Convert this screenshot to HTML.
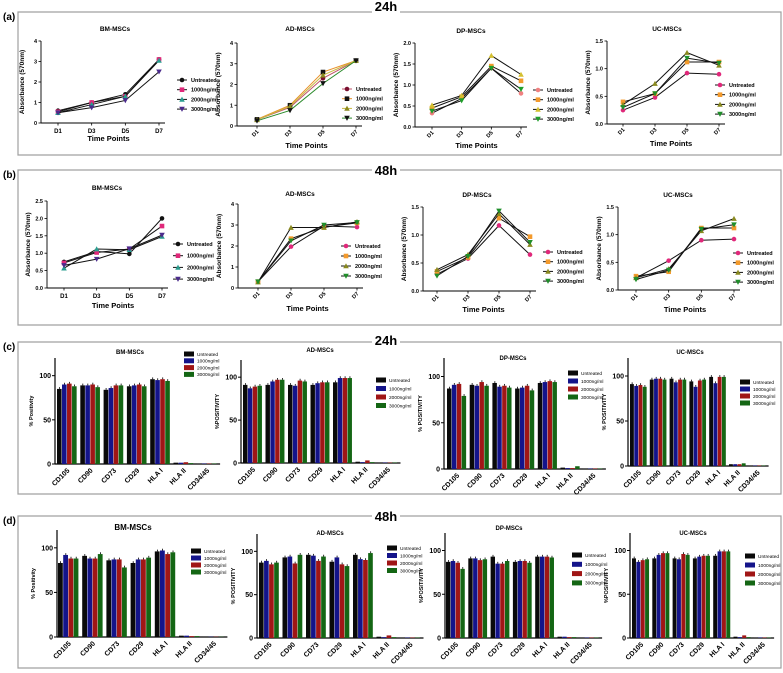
<!DOCTYPE html>
<html><head><meta charset="utf-8"><style>
html,body{margin:0;padding:0;background:#fff;}
svg{display:block;font-family:"Liberation Sans",Arial,sans-serif;}
</style></head><body>
<svg id="fig" width="783" height="673" viewBox="0 0 783 673" xmlns="http://www.w3.org/2000/svg"></svg>
<script>
// ---------- data ----------
const days = ['D1','D3','D5','D7'];
const doseNames = ['Untreated','1000ng/ml','2000ng/ml','3000ng/ml'];
const cdCategories = ['CD105','CD90','CD73','CD29','HLA I','HLA II','CD34/45'];

const aBM_values = [[0.6,1.0,1.4,3.1],[0.55,1.0,1.3,3.1],[0.5,0.9,1.3,3.05],[0.5,0.75,1.1,2.5]];
const aAD_values = [[0.3,0.9,2.3,3.15],[0.32,1.0,2.6,3.15],[0.3,0.95,2.45,3.15],[0.25,0.75,2.05,3.15]];
const aDP_values = [[0.33,0.68,1.4,0.8],[0.45,0.72,1.45,1.1],[0.52,0.75,1.7,1.25],[0.38,0.63,1.4,0.9]];
const aUC_values = [[0.25,0.48,0.92,0.9],[0.4,0.55,1.12,1.12],[0.35,0.73,1.29,1.06],[0.3,0.55,1.19,1.1]];
const bBM_values = [[0.75,1.05,0.98,2.0],[0.72,1.02,1.12,1.78],[0.57,1.12,1.1,1.48],[0.65,0.83,1.13,1.52]];
const bAD_values = [[0.3,1.97,2.95,2.9],[0.3,2.35,2.9,3.1],[0.28,2.88,2.88,3.15],[0.3,2.25,3.0,3.12]];
const bDP_values = [[0.3,0.58,1.17,0.65],[0.35,0.6,1.3,0.97],[0.38,0.65,1.38,0.83],[0.27,0.62,1.43,0.87]];
const bUC_values = [[0.22,0.53,0.9,0.92],[0.25,0.33,1.12,1.12],[0.22,0.38,1.07,1.29],[0.19,0.36,1.1,1.18]];

const cBM_values = [[85,89,84,88,96,1.5,0.5],[90,89,86,89,95,1.5,0.5],[91,90,89,90,96,2,0.5],[88,87,89,88,94,1,0.5]];
const cAD_values = [[91,91,91,91,94,1.5,0.5],[87,95,90,93,99,1,0.5],[89,97,96,94,99,3,0.5],[90,97,95,94,99,1,0.5]];
const cDP_values = [[87,91,93,87,93,1.5,0.5],[91,90,89,88,94,1,0.5],[92,94,90,90,95,1,0.5],[79,90,88,85,94,3,0.5]];
const cUC_values = [[91,96,97,94,99,2,0.5],[89,97,93,88,92,2,0.5],[90,97,96,95,99,2,0.5],[88,96,96,96,99,3,0.5]];
const dBM_values = [[83,91,86,83,96,1.5,0.3],[92,88,87,87,97,1.5,0.3],[88,88,87,87,93,1,0.3],[88,93,78,89,95,1,0.3]];
const dAD_values = [[87,93,96,88,96,1.5,0.5],[89,94,95,93,91,1,0.5],[85,86,89,85,90,3,0.5],[87,96,94,83,98,1,0.5]];
const dDP_values = [[87,91,93,87,93,1.5,0.5],[88,91,85,88,93,1.5,0.5],[86,89,85,88,93,1,0.5],[79,90,88,86,92,1,0.5]];
const dUC_values = [[91,91,91,91,94,1.5,0.5],[87,95,90,93,99,1,0.5],[89,97,96,94,99,3,0.5],[90,97,95,94,99,1,0.5]];

const ticks0to4 = [0,1,2,3,4];
const ticks0to2 = [0,0.5,1,1.5,2];
const ticks0to15 = [0,0.5,1,1.5];
const ticks0to25 = [0,0.5,1,1.5,2,2.5];
const barTicks = [0,50,100];

// ---------- drawing ----------
const NS='http://www.w3.org/2000/svg';
const svg=document.getElementById('fig');
function mk(tag,attrs,parent,txt){const e=document.createElementNS(NS,tag);for(const k in attrs)e.setAttribute(k,attrs[k]);if(txt!==undefined)e.textContent=txt;(parent||svg).appendChild(e);return e;}

function panelBox(label,tagText,top,bottom,tagBase){
  const g=mk('g',{});
  
  
  mk('path',{d:`M372 ${top} H18 V${bottom} H781 V${top} H400`,fill:'none',stroke:'#a0a0a0','stroke-width':1.2},g);
  const t=mk('text',{x:3,y:top+8,'font-size':10,'font-weight':'bold'},g,label);
  
  
  const h=mk('text',{x:386,y:tagBase,'font-size':13,'font-weight':'bold','text-anchor':'middle'},g,tagText);
  
  
}

function markerShape(g,type,x,y,fill){
  const s=2.3;
  if(type==='circle')return mk('circle',{cx:x,cy:y,r:s,fill},g);
  if(type==='square')return mk('rect',{x:x-s,y:y-s,width:2*s,height:2*s,fill},g);
  if(type==='tri')return mk('path',{d:`M${x} ${y-s-0.5} L${x+s+0.5} ${y+s} L${x-s-0.5} ${y+s}Z`,fill},g);
  return mk('path',{d:`M${x} ${y+s+0.5} L${x+s+0.5} ${y-s} L${x-s-0.5} ${y-s}Z`,fill},g);
}
const shapes=['circle','square','tri','down'];

function lineChart(c,values,ticks){
  const g=mk('g',{});
  
  
  const ymax=ticks[ticks.length-1];
  const ys=v=>c.yBot-(v/ymax)*(c.yBot-c.yTop);
  const xs=i=>c.x0+i*(c.x1-c.x0)/(days.length-1);
  mk('line',{x1:c.ax,y1:c.yTop,x2:c.ax,y2:c.yBot,stroke:'#000','stroke-width':0.9},g);
  mk('line',{x1:c.ax,y1:c.yBot,x2:c.x1+6,y2:c.yBot,stroke:'#000','stroke-width':0.9},g);
  ticks.forEach(t=>{const y=ys(t);
    mk('line',{x1:c.ax-2.5,y1:y,x2:c.ax,y2:y,stroke:'#000','stroke-width':0.8},g);
    const tl=mk('text',{x:c.ax-4,y:y+2,'font-size':5.5,'font-weight':'bold','text-anchor':'end'},g,c.fmt?t.toFixed(1):String(t));
    
    
  });
  days.forEach((d,i)=>{const x=xs(i);
    mk('line',{x1:x,y1:c.yBot,x2:x,y2:c.yBot+2.5,stroke:'#000','stroke-width':0.8},g);
    let tl;
    if(c.rot) tl=mk('text',{x:x+2,y:c.yBot+6,'font-size':5.5,'font-weight':'bold','text-anchor':'end',transform:`rotate(-45 ${x+2} ${c.yBot+6})`},g,d);
    else tl=mk('text',{x:x,y:c.yBot+10,'font-size':6,'font-weight':'bold','text-anchor':'middle'},g,d);
    
    
  });
  const tt=mk('text',{x:c.tx,y:c.ty,'font-size':6.5,'font-weight':'bold','text-anchor':'middle'},g,c.title);
  
  
  const xt=mk('text',{x:(c.x0+c.x1)/2,y:c.xty,'font-size':7.5,'font-weight':'bold','text-anchor':'middle'},g,'Time  Points');
  
  
  const ycx=c.ax-17, ycy=(c.yTop+c.yBot)/2;
  const yt=mk('text',{x:ycx,y:ycy,'font-size':6.5,'font-weight':'bold','text-anchor':'middle',transform:`rotate(-90 ${ycx} ${ycy})`},g,'Absorbance (570nm)');
  
  
  values.forEach((ser,si)=>{
    const pts=ser.map((v,i)=>xs(i)+','+ys(v)).join(' ');
    const pl=mk('polyline',{points:pts,fill:'none',stroke:c.lineColors?c.lineColors[si]:'#111','stroke-width':1},g);
    
    
    ser.forEach((v,i)=>{
      const m=markerShape(g,shapes[si],xs(i),ys(v),c.colors[si]);
      
      
    });
    const ly=c.ly+si*c.ls;
    const lg=mk('g',{},g);
    
    
    mk('line',{x1:c.lx-5,y1:ly,x2:c.lx+5,y2:ly,stroke:c.lineColors?c.lineColors[si]:'#111','stroke-width':1},lg);
    markerShape(lg,shapes[si],c.lx,ly,c.colors[si]);
    mk('text',{x:c.lx+9,y:ly+2,'font-size':5.5,'font-weight':'bold'},lg,doseNames[si]);
  });
}

const barColors=['#0a0a0a','#14148a','#a01616','#146614'];
function barChart(c,values){
  const g=mk('g',{});
  
  
  const ys=v=>c.yBot-(v/120)*(c.yBot-c.yTop);
  const bw=(c.sp*0.86)/4;
  mk('line',{x1:c.ax,y1:c.yTop,x2:c.ax,y2:c.yBot,stroke:'#000','stroke-width':1.2},g);
  mk('line',{x1:c.ax,y1:c.yBot,x2:c.gx+c.sp*7,y2:c.yBot,stroke:'#000','stroke-width':1.2},g);
  barTicks.forEach(t=>{const y=ys(t);
    mk('line',{x1:c.ax-3,y1:y,x2:c.ax,y2:y,stroke:'#000','stroke-width':1},g);
    const tl=mk('text',{x:c.ax-4,y:y+2.5,'font-size':7,'font-weight':'bold','text-anchor':'end'},g,String(t));
    
    
  });
  cdCategories.forEach((cat,ci)=>{
    const cx=c.gx+ci*c.sp+c.sp*0.43;
    const tl=mk('text',{x:cx+3,y:c.yBot+7,'font-size':7,'font-weight':'bold','text-anchor':'end',transform:`rotate(-45 ${cx+3} ${c.yBot+7})`},g,cat);
    
    
  });
  values.forEach((ser,si)=>{
    ser.forEach((v,ci)=>{
      const x=c.gx+ci*c.sp+si*bw;
      const y=ys(v);
      const r=mk('rect',{x:x,y:y,width:bw-0.4,height:c.yBot-y,fill:barColors[si]},g);
      
      
      if(v>10) mk('line',{x1:x+bw/2,y1:y,x2:x+bw/2,y2:y-1.8,stroke:'#000','stroke-width':0.8},g);
    });
  });
  const tt=mk('text',{x:c.tx,y:c.ty,'font-size':c.tfs||6,'font-weight':'bold','text-anchor':'middle'},g,c.title);
  
  
  const ycx=c.ax-22, ycy=ys(60);
  const yt=mk('text',{x:ycx,y:ycy,'font-size':5.5,'font-weight':'bold','text-anchor':'middle',transform:`rotate(-90 ${ycx} ${ycy})`},g,c.ytitle);
  
  
  doseNames.forEach((n,si)=>{
    const ly=c.ly+si*c.ls;
    const lg=mk('g',{},g);
    
    
    mk('rect',{x:c.lx,y:ly-2.5,width:10,height:5,fill:barColors[si]},lg);
    mk('text',{x:c.lx+13,y:ly+1.8,'font-size':4.8},lg,n);
  });
}

// ---------- panels ----------
panelBox('(a)','24h',12,155,11);
panelBox('(b)','48h',170,325,175);
panelBox('(c)','24h',342,494,345);
panelBox('(d)','48h',516,668,521);

const bmCols=['#111','#e0287a','#2a9d8f','#4b2b8c'];
const dCols=['#e0287a','#f39a2c','#8a8a20','#1f8f2a'];
lineChart({name:'chart-a-bm',ax:41,yTop:41,yBot:123,x0:58,x1:159,fmt:false,rot:false,title:'BM-MSCs',tx:115,ty:31,xty:141,lx:182,ly:80,ls:9.7,colors:bmCols},aBM_values,ticks0to4);
lineChart({name:'chart-a-ad',ax:237,yTop:43,yBot:126,x0:257,x1:356,fmt:false,rot:true,title:'AD-MSCs',tx:300,ty:31,xty:148,lx:347,ly:89,ls:9.7,colors:['#7a1030','#111','#8a8a20','#111'],lineColors:['#c0506a','#e8902a','#c8b840','#2a8a2a']},aAD_values,ticks0to4);
lineChart({name:'chart-a-dp',ax:415,yTop:43,yBot:127,x0:432,x1:521,fmt:true,rot:true,title:'DP-MSCs',tx:471,ty:33,xty:148,lx:538,ly:90,ls:9.7,colors:['#f08080','#f39a2c','#d4c030','#1f9f2a']},aDP_values,ticks0to2);
lineChart({name:'chart-a-uc',ax:607,yTop:41,yBot:124,x0:623,x1:719,fmt:true,rot:true,title:'UC-MSCs',tx:667,ty:31,xty:146,lx:720,ly:85,ls:9.7,colors:dCols},aUC_values,ticks0to15);
lineChart({name:'chart-b-bm',ax:47,yTop:201,yBot:288,x0:64,x1:162,fmt:true,rot:false,title:'BM-MSCs',tx:107,ty:190,xty:308,lx:178,ly:244,ls:11.7,colors:bmCols},bBM_values,ticks0to25);
lineChart({name:'chart-b-ad',ax:238,yTop:204,yBot:288,x0:258,x1:357,fmt:false,rot:true,title:'AD-MSCs',tx:300,ty:196,xty:311,lx:346,ly:246,ls:10,colors:dCols},bAD_values,ticks0to4);
lineChart({name:'chart-b-dp',ax:423,yTop:207,yBot:291,x0:437,x1:530,fmt:true,rot:true,title:'DP-MSCs',tx:477,ty:197,xty:312,lx:548,ly:252,ls:9.7,colors:dCols},bDP_values,ticks0to15);
lineChart({name:'chart-b-uc',ax:618,yTop:207,yBot:290,x0:636,x1:734,fmt:true,rot:true,title:'UC-MSCs',tx:678,ty:197,xty:312,lx:738,ly:253,ls:9.7,colors:dCols},bUC_values,ticks0to15);

barChart({name:'chart-c-bm',ax:55,yTop:358,yBot:464,gx:57,sp:23.3,title:'BM-MSCs',tx:130,ty:354,ytitle:'% Positivity',lx:184,ly:354,ls:6.8},cBM_values);
barChart({name:'chart-c-ad',ax:241,yTop:360,yBot:463,gx:243,sp:22.5,title:'AD-MSCs',tx:320,ty:352,ytitle:'%POSITIVITY',lx:376,ly:380,ls:8.5},cAD_values);
barChart({name:'chart-c-dp',ax:444,yTop:358,yBot:469,gx:447,sp:22.7,title:'DP-MSCs',tx:513,ty:360,ytitle:'% POSITIVITY',lx:568,ly:373,ls:8},cDP_values);
barChart({name:'chart-c-uc',ax:628,yTop:358,yBot:466,gx:630,sp:19.8,title:'UC-MSCs',tx:690,ty:354,ytitle:'% POSITIVITY',lx:740,ly:382,ls:7},cUC_values);
barChart({name:'chart-d-bm',ax:57,yTop:530,yBot:637,gx:58,sp:24.2,title:'BM-MSCs',tx:133,ty:530,tfs:8,ytitle:'% Positivity',lx:191,ly:551,ls:7},dBM_values);
barChart({name:'chart-d-ad',ax:257,yTop:534,yBot:638,gx:259,sp:23.5,title:'AD-MSCs',tx:330,ty:535,ytitle:'% POSITIVITY',lx:387,ly:548,ls:7.5},dAD_values);
barChart({name:'chart-d-dp',ax:445,yTop:533,yBot:638,gx:446,sp:22.3,title:'DP-MSCs',tx:509,ty:530,ytitle:'%POSITIVITY',lx:572,ly:555,ls:9.3},dDP_values);
barChart({name:'chart-d-uc',ax:630,yTop:533,yBot:638,gx:632,sp:20.3,title:'UC-MSCs',tx:693,ty:535,ytitle:'%POSITIVITY',lx:745,ly:556,ls:9},dUC_values);
</script>
</body></html>
